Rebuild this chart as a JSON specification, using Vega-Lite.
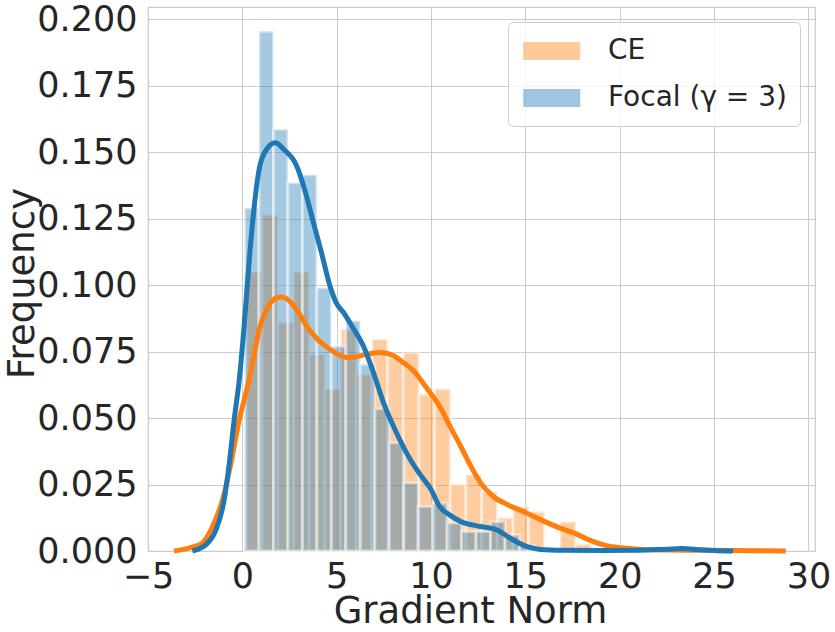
{
  "$schema": "https://vega.github.io/schema/vega-lite/v6.json",
  "width": 667,
  "height": 544,
  "autosize": {"type": "none"},
  "padding": {"left": 148, "top": 7, "right": 20, "bottom": 81},
  "background": "white",
  "config": {
    "font": "DejaVu Sans",
    "view": {"stroke": "#cccccc", "strokeWidth": 1.25},
    "axis": {
      "domain": false,
      "ticks": false,
      "grid": true,
      "gridColor": "#cccccc",
      "gridWidth": 1,
      "labelColor": "#262626",
      "titleColor": "#262626",
      "labelFontSize": 35,
      "titleFontSize": 37,
      "titleFontWeight": "normal",
      "labelFlush": false,
      "labelOverlap": false
    }
  },
  "datasets": {
    "hist": [
      {"s": "CE", "x": 0.222, "xe": 1.053, "f": 0.105},
      {"s": "CE", "x": 1.053, "xe": 1.884, "f": 0.1265},
      {"s": "CE", "x": 1.884, "xe": 2.715, "f": 0.086},
      {"s": "CE", "x": 2.715, "xe": 3.546, "f": 0.105},
      {"s": "CE", "x": 3.546, "xe": 4.377, "f": 0.074},
      {"s": "CE", "x": 4.377, "xe": 5.208, "f": 0.061},
      {"s": "CE", "x": 5.208, "xe": 6.039, "f": 0.0835},
      {"s": "CE", "x": 6.039, "xe": 6.87, "f": 0.0665},
      {"s": "CE", "x": 6.87, "xe": 7.701, "f": 0.0797},
      {"s": "CE", "x": 7.701, "xe": 8.532, "f": 0.0728},
      {"s": "CE", "x": 8.532, "xe": 9.363, "f": 0.0747},
      {"s": "CE", "x": 9.363, "xe": 10.194, "f": 0.059},
      {"s": "CE", "x": 10.194, "xe": 11.025, "f": 0.061},
      {"s": "CE", "x": 11.025, "xe": 11.856, "f": 0.025},
      {"s": "CE", "x": 11.856, "xe": 12.687, "f": 0.0287},
      {"s": "CE", "x": 12.687, "xe": 13.518, "f": 0.0222},
      {"s": "CE", "x": 13.518, "xe": 14.349, "f": 0.0125},
      {"s": "CE", "x": 14.349, "xe": 15.18, "f": 0.0167},
      {"s": "CE", "x": 15.18, "xe": 16.011, "f": 0.0148},
      {"s": "CE", "x": 16.011, "xe": 16.842, "f": 0.0008},
      {"s": "CE", "x": 16.842, "xe": 17.673, "f": 0.011},
      {"s": "CE", "x": 17.673, "xe": 18.504, "f": 0.0026},
      {"s": "Focal (γ = 3)", "x": 0.116, "xe": 0.883, "f": 0.129},
      {"s": "Focal (γ = 3)", "x": 0.883, "xe": 1.65, "f": 0.1955},
      {"s": "Focal (γ = 3)", "x": 1.65, "xe": 2.417, "f": 0.1586},
      {"s": "Focal (γ = 3)", "x": 2.417, "xe": 3.184, "f": 0.1385},
      {"s": "Focal (γ = 3)", "x": 3.184, "xe": 3.951, "f": 0.1415},
      {"s": "Focal (γ = 3)", "x": 3.951, "xe": 4.718, "f": 0.099},
      {"s": "Focal (γ = 3)", "x": 4.718, "xe": 5.485, "f": 0.077},
      {"s": "Focal (γ = 3)", "x": 5.485, "xe": 6.252, "f": 0.0866},
      {"s": "Focal (γ = 3)", "x": 6.252, "xe": 7.019, "f": 0.0702},
      {"s": "Focal (γ = 3)", "x": 7.019, "xe": 7.786, "f": 0.0535},
      {"s": "Focal (γ = 3)", "x": 7.786, "xe": 8.553, "f": 0.0407},
      {"s": "Focal (γ = 3)", "x": 8.553, "xe": 9.32, "f": 0.0256},
      {"s": "Focal (γ = 3)", "x": 9.32, "xe": 10.087, "f": 0.0167},
      {"s": "Focal (γ = 3)", "x": 10.087, "xe": 10.854, "f": 0.018},
      {"s": "Focal (γ = 3)", "x": 10.854, "xe": 11.621, "f": 0.0105},
      {"s": "Focal (γ = 3)", "x": 11.621, "xe": 12.388, "f": 0.0073},
      {"s": "Focal (γ = 3)", "x": 12.388, "xe": 13.155, "f": 0.0073},
      {"s": "Focal (γ = 3)", "x": 13.155, "xe": 13.922, "f": 0.011},
      {"s": "Focal (γ = 3)", "x": 13.922, "xe": 14.689, "f": 0.006},
      {"s": "Focal (γ = 3)", "x": 14.689, "xe": 15.456, "f": 0.002},
      {"s": "Focal (γ = 3)", "x": 15.456, "xe": 16.223, "f": 0.001}
    ],
    "kde": [
      {"s": "CE", "x": -3.62, "f": 0.0},
      {"s": "CE", "x": -3.0, "f": 0.0008},
      {"s": "CE", "x": -2.5, "f": 0.0018},
      {"s": "CE", "x": -2.12, "f": 0.003},
      {"s": "CE", "x": -1.58, "f": 0.0092},
      {"s": "CE", "x": -1.05, "f": 0.0193},
      {"s": "CE", "x": -0.6, "f": 0.0331},
      {"s": "CE", "x": -0.16, "f": 0.0495},
      {"s": "CE", "x": 0.28, "f": 0.062},
      {"s": "CE", "x": 0.55, "f": 0.071},
      {"s": "CE", "x": 0.9, "f": 0.0835},
      {"s": "CE", "x": 1.3, "f": 0.091},
      {"s": "CE", "x": 1.7, "f": 0.0948},
      {"s": "CE", "x": 2.06, "f": 0.0955},
      {"s": "CE", "x": 2.5, "f": 0.094},
      {"s": "CE", "x": 3.0, "f": 0.0895},
      {"s": "CE", "x": 3.4, "f": 0.0847},
      {"s": "CE", "x": 4.0, "f": 0.0795},
      {"s": "CE", "x": 4.64, "f": 0.0759},
      {"s": "CE", "x": 5.1, "f": 0.0738},
      {"s": "CE", "x": 5.53, "f": 0.0728},
      {"s": "CE", "x": 6.0, "f": 0.073},
      {"s": "CE", "x": 6.6, "f": 0.074},
      {"s": "CE", "x": 7.3, "f": 0.0747},
      {"s": "CE", "x": 8.0, "f": 0.0735},
      {"s": "CE", "x": 8.5, "f": 0.071},
      {"s": "CE", "x": 9.08, "f": 0.0677},
      {"s": "CE", "x": 9.8, "f": 0.061},
      {"s": "CE", "x": 10.5, "f": 0.0539},
      {"s": "CE", "x": 11.0, "f": 0.047},
      {"s": "CE", "x": 11.57, "f": 0.0394},
      {"s": "CE", "x": 12.1, "f": 0.032},
      {"s": "CE", "x": 12.63, "f": 0.0256},
      {"s": "CE", "x": 13.3, "f": 0.0205},
      {"s": "CE", "x": 14.06, "f": 0.0174},
      {"s": "CE", "x": 15.0, "f": 0.0145},
      {"s": "CE", "x": 15.83, "f": 0.0117},
      {"s": "CE", "x": 16.7, "f": 0.009},
      {"s": "CE", "x": 17.6, "f": 0.0067},
      {"s": "CE", "x": 18.5, "f": 0.0038},
      {"s": "CE", "x": 19.3, "f": 0.002},
      {"s": "CE", "x": 20.1, "f": 0.0012},
      {"s": "CE", "x": 21.0, "f": 0.0007},
      {"s": "CE", "x": 22.5, "f": 0.0004},
      {"s": "CE", "x": 24.4, "f": 0.0003},
      {"s": "CE", "x": 26.0, "f": 0.0002},
      {"s": "CE", "x": 28.8, "f": 0.0},
      {"s": "Focal", "x": -2.65, "f": 0.0},
      {"s": "Focal", "x": -2.3, "f": 0.0008},
      {"s": "Focal", "x": -1.94, "f": 0.0023},
      {"s": "Focal", "x": -1.4, "f": 0.0079},
      {"s": "Focal", "x": -0.96, "f": 0.0193},
      {"s": "Focal", "x": -0.69, "f": 0.0331},
      {"s": "Focal", "x": -0.43, "f": 0.0495},
      {"s": "Focal", "x": -0.16, "f": 0.0646},
      {"s": "Focal", "x": 0.1, "f": 0.085},
      {"s": "Focal", "x": 0.4, "f": 0.1124},
      {"s": "Focal", "x": 0.9, "f": 0.1439},
      {"s": "Focal", "x": 1.3, "f": 0.1512},
      {"s": "Focal", "x": 1.75, "f": 0.1535},
      {"s": "Focal", "x": 2.2, "f": 0.151},
      {"s": "Focal", "x": 2.87, "f": 0.145},
      {"s": "Focal", "x": 3.3, "f": 0.136},
      {"s": "Focal", "x": 3.75, "f": 0.124},
      {"s": "Focal", "x": 4.2, "f": 0.112},
      {"s": "Focal", "x": 4.64, "f": 0.0998},
      {"s": "Focal", "x": 5.0, "f": 0.093},
      {"s": "Focal", "x": 5.35, "f": 0.0898},
      {"s": "Focal", "x": 5.9, "f": 0.0835},
      {"s": "Focal", "x": 6.41, "f": 0.0772},
      {"s": "Focal", "x": 7.0, "f": 0.066},
      {"s": "Focal", "x": 7.48, "f": 0.0558},
      {"s": "Focal", "x": 8.2, "f": 0.044},
      {"s": "Focal", "x": 8.9, "f": 0.0344},
      {"s": "Focal", "x": 9.5, "f": 0.028},
      {"s": "Focal", "x": 9.97, "f": 0.0235},
      {"s": "Focal", "x": 10.45, "f": 0.0168},
      {"s": "Focal", "x": 11.0, "f": 0.0135},
      {"s": "Focal", "x": 11.57, "f": 0.0111},
      {"s": "Focal", "x": 12.63, "f": 0.0092},
      {"s": "Focal", "x": 13.5, "f": 0.0079},
      {"s": "Focal", "x": 14.2, "f": 0.0048},
      {"s": "Focal", "x": 15.1, "f": 0.0016},
      {"s": "Focal", "x": 15.8, "f": 0.0006},
      {"s": "Focal", "x": 17.0, "f": 0.0003},
      {"s": "Focal", "x": 19.0, "f": 0.0002},
      {"s": "Focal", "x": 21.0, "f": 0.0003},
      {"s": "Focal", "x": 22.5, "f": 0.0007},
      {"s": "Focal", "x": 23.3, "f": 0.0009},
      {"s": "Focal", "x": 24.2, "f": 0.0005},
      {"s": "Focal", "x": 25.0, "f": 0.0002},
      {"s": "Focal", "x": 26.0, "f": 0.0}
    ]
  },
  "encoding": {
    "x": {
      "field": "x",
      "type": "quantitative",
      "scale": {"domain": [-5, 30.35], "nice": false, "zero": false},
      "axis": {"values": [-5, 0, 5, 10, 15, 20, 25, 30], "format": "d", "labelPadding": 8, "title": "Gradient Norm", "titleX": 322, "titleY": 71, "titleAnchor": null, "titleAlign": "center", "titleBaseline": "alphabetic"}
    },
    "y": {
      "field": "f",
      "type": "quantitative",
      "scale": {"domain": [0, 0.2046], "nice": false},
      "axis": {"values": [0, 0.025, 0.05, 0.075, 0.1, 0.125, 0.15, 0.175, 0.2], "format": ".3f", "labelPadding": 11, "title": "Frequency", "titleX": -115, "titleY": 276, "titleAngle": -90, "titleAlign": "center", "titleBaseline": "alphabetic"}
    }
  },
  "layer": [
    {
      "data": {"name": "hist"},
      "mark": {"type": "rect", "fillOpacity": 0.4, "stroke": "white", "strokeOpacity": 0.45, "strokeWidth": 3},
      "encoding": {
        "x2": {"field": "xe"},
        "y2": {"datum": 0},
        "color": {
          "field": "s",
          "type": "nominal",
          "sort": null,
          "scale": {"domain": ["CE", "Focal (γ = 3)"], "range": ["#ff7f0e", "#1f77b4"]},
          "legend": {
            "title": null,
            "orient": "none",
            "legendX": 360,
            "legendY": 15,
            "symbolType": "M-1,-0.68L3,-0.68L3,0.68L-1,0.68Z",
            "symbolSize": 870,
            "symbolOpacity": 0.42,
            "symbolStrokeColor": "white",
            "symbolStrokeWidth": 2,
            "labelFontSize": 28,
            "labelOffset": 55,
            "labelColor": "#262626",
            "labelLimit": 400,
            "rowPadding": 16,
            "padding": 13,
            "fillColor": "rgba(255,255,255,0.8)",
            "strokeColor": "#cccccc",
            "cornerRadius": 5
          }
        }
      }
    },
    {
      "data": {"name": "kde"},
      "transform": [{"filter": "datum.s === 'CE'"}],
      "mark": {"type": "line", "color": "#ff7f0e", "strokeWidth": 5, "interpolate": "monotone"}
    },
    {
      "data": {"name": "kde"},
      "transform": [{"filter": "datum.s === 'Focal'"}],
      "mark": {"type": "line", "color": "#1f77b4", "strokeWidth": 5, "interpolate": "monotone"}
    }
  ]
}
